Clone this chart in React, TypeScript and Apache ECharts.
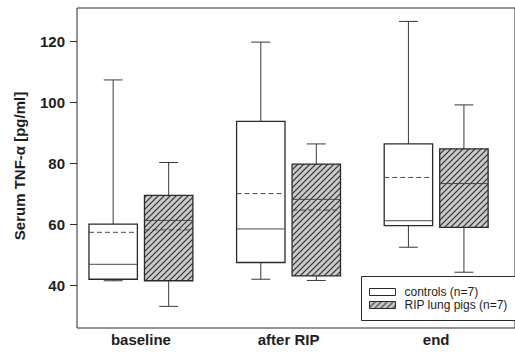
import React, { useEffect, useRef } from "react";
import * as echarts from "echarts";

const categories = ["baseline", "after RIP", "end"];
const seriesNames = ["controls (n=7)", "RIP lung pigs (n=7)"];
const yTicks = [40, 60, 80, 100, 120];

const controlsMin = [41.5, 42.0, 52.5];
const controlsQ1 = [42.0, 47.5, 59.6];
const controlsMedian = [46.9, 58.5, 61.2];
const controlsQ3 = [60.1, 93.8, 86.4];
const controlsMax = [107.4, 119.8, 126.6];
const controlsMean = [57.4, 70.1, 75.4];

const ripMin = [33.1, 41.6, 44.3];
const ripQ1 = [41.5, 43.1, 59.0];
const ripMedian = [61.3, 68.2, 73.4];
const ripQ3 = [69.5, 79.8, 84.8];
const ripMax = [80.3, 86.4, 99.2];
const ripMean = [58.2, 64.7, 73.4];

const FONT = "'Liberation Sans', Arial, Helvetica, sans-serif";
const INK = "#1e1e1e";

function buildRows(mn: number[], q1: number[], md: number[], q3: number[], mx: number[], me: number[]) {
  return categories.map((_, i) => [i, mn[i], q1[i], md[i], q3[i], mx[i], me[i]]);
}

function makeHatch() {
  const s = 6;
  const c = document.createElement("canvas");
  c.width = s;
  c.height = s;
  const ctx = c.getContext("2d")!;
  ctx.fillStyle = "#c9c9c9";
  ctx.fillRect(0, 0, s, s);
  ctx.strokeStyle = "#2e2e2e";
  ctx.lineWidth = 1.15;
  ctx.beginPath();
  ctx.moveTo(-1, s + 1);
  ctx.lineTo(s + 1, -1);
  ctx.moveTo(-1, 1);
  ctx.lineTo(1, -1);
  ctx.moveTo(s - 1, s + 1);
  ctx.lineTo(s + 1, s - 1);
  ctx.stroke();
  return { image: c, repeat: "repeat", imageWidth: s, imageHeight: s } as any;
}

export default function App() {
  const ref = useRef<HTMLDivElement>(null);
  useEffect(() => {
    if (!ref.current) return;
    const chart = echarts.init(ref.current, undefined, { renderer: "svg" });
    const hatch = makeHatch();

    const makeRender = (offset: number, fill: any) => (params: any, api: any) => {
      const c = api.value(0) + offset;
      const hw = 0.164;
      const cw = 0.064;
      const p = (x: number, y: number) => api.coord([x, y]);
      const xl = p(c - hw, 0)[0];
      const xr = p(c + hw, 0)[0];
      const xc = p(c, 0)[0];
      const cl = p(c - cw, 0)[0];
      const cr = p(c + cw, 0)[0];
      const ymin = p(c, api.value(1))[1];
      const yq1 = p(c, api.value(2))[1];
      const ymed = p(c, api.value(3))[1];
      const yq3 = p(c, api.value(4))[1];
      const ymax = p(c, api.value(5))[1];
      const ymean = p(c, api.value(6))[1];
      const wStyle = { stroke: "#3a3a3a", lineWidth: 1 };
      return {
        type: "group",
        children: [
          { type: "line", shape: { x1: xc, y1: ymax, x2: xc, y2: yq3 }, style: wStyle },
          { type: "line", shape: { x1: cl, y1: ymax, x2: cr, y2: ymax }, style: wStyle },
          { type: "line", shape: { x1: xc, y1: yq1, x2: xc, y2: ymin }, style: wStyle },
          { type: "line", shape: { x1: cl, y1: ymin, x2: cr, y2: ymin }, style: wStyle },
          {
            type: "rect",
            shape: { x: xl, y: yq3, width: xr - xl, height: yq1 - yq3 },
            style: { fill, stroke: "#2a2a2a", lineWidth: 1.3 },
          },
          { type: "line", shape: { x1: xl, y1: ymed, x2: xr, y2: ymed }, style: { stroke: "#4a4a4a", lineWidth: 1 } },
          {
            type: "line",
            shape: { x1: xl, y1: ymean, x2: xr, y2: ymean },
            style: { stroke: "#4a4a4a", lineWidth: 1, lineDash: [5, 3] },
          },
        ],
      };
    };

    chart.setOption({
      animation: false,
      textStyle: { fontFamily: FONT },
      grid: {
        left: 77,
        top: 8,
        right: -5,
        bottom: 26,
        show: true,
        borderColor: "#2a2a2a",
        borderWidth: 1,
        backgroundColor: "transparent",
      },
      graphic: [
        {
          type: "rect",
          z: 3,
          shape: { x: 361.5, y: 276.5, width: 160, height: 44 },
          style: { fill: "#fff", stroke: "#2a2a2a", lineWidth: 1 },
        },
      ],
      legend: {
        orient: "vertical",
        left: 369,
        top: 286,
        padding: 0,
        itemGap: 1,
        itemWidth: 26,
        itemHeight: 7,
        textStyle: { fontSize: 12, color: INK, fontFamily: FONT, lineHeight: 12, padding: [0, 0, 0, 4] },
        data: [
          { name: seriesNames[0], icon: "rect", itemStyle: { color: "#fff", borderColor: "#2a2a2a", borderWidth: 1 } },
          { name: seriesNames[1], icon: "rect", itemStyle: { color: hatch, borderColor: "#2a2a2a", borderWidth: 1 } },
        ],
      },
      xAxis: {
        type: "value",
        min: -0.433,
        max: 2.534,
        axisLine: { show: false, onZero: false },
        axisTick: { show: false },
        splitLine: { show: false },
        axisLabel: {
          customValues: [0, 1, 2],
          formatter: (v: number) => categories[Math.round(v)] ?? "",
          fontSize: 15,
          fontWeight: "bold",
          color: INK,
          margin: 4,
          fontFamily: FONT,
        },
      },
      yAxis: {
        type: "value",
        min: 26,
        max: 131,
        name: "Serum TNF-α [pg/ml]",
        nameLocation: "middle",
        nameGap: 50,
        nameTextStyle: { fontSize: 15, fontWeight: "bold", color: INK, fontFamily: FONT, padding: [0, 0, 0, 4] },
        axisLine: { show: false, onZero: false },
        splitLine: { show: false },
        axisTick: { show: true, customValues: yTicks, length: 7, lineStyle: { color: "#2a2a2a", width: 1 } },
        axisLabel: {
          customValues: yTicks,
          fontSize: 15,
          fontWeight: "bold",
          color: INK,
          margin: 12,
          fontFamily: FONT,
        },
      },
      series: [
        {
          name: seriesNames[0],
          type: "custom",
          renderItem: makeRender(-0.188, "#fff"),
          itemStyle: { color: "#fff", borderColor: "#2a2a2a" },
          encode: { x: 0, y: [1, 2, 3, 4, 5, 6] },
          data: buildRows(controlsMin, controlsQ1, controlsMedian, controlsQ3, controlsMax, controlsMean),
        },
        {
          name: seriesNames[1],
          type: "custom",
          renderItem: makeRender(0.188, hatch),
          itemStyle: { color: hatch, borderColor: "#2a2a2a" },
          encode: { x: 0, y: [1, 2, 3, 4, 5, 6] },
          data: buildRows(ripMin, ripQ1, ripMedian, ripQ3, ripMax, ripMean),
        },
      ],
    });
    return () => chart.dispose();
  }, []);
  return <div ref={ref} style={{ position: "fixed", left: 0, top: 0, width: 515, height: 354, background: "#fff" }} />;
}
